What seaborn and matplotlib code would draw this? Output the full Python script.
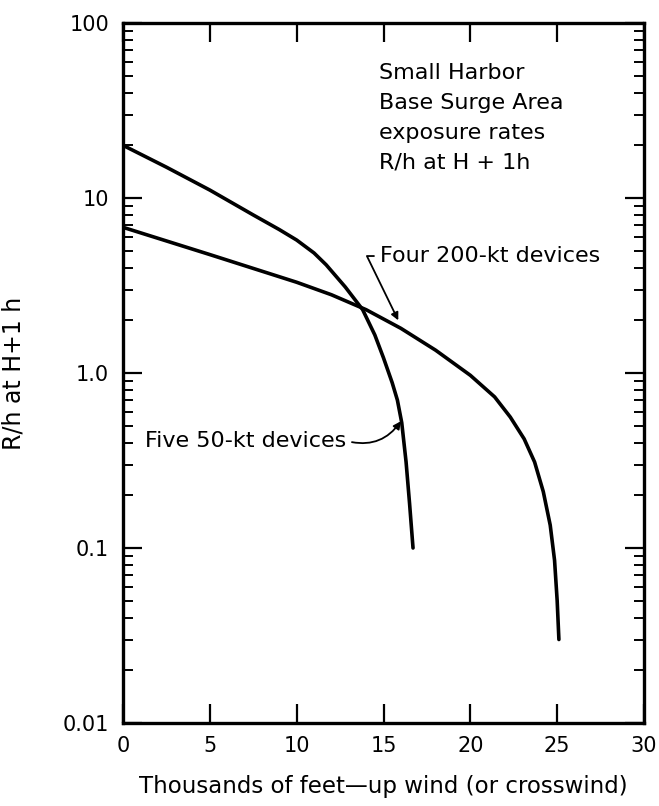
import numpy as np
import pandas as pd
import matplotlib
matplotlib.use("Agg")
import matplotlib.pyplot as plt
import seaborn as sns
from matplotlib.ticker import LogLocator, FixedLocator, FixedFormatter, NullFormatter

# ---- data ----
x_50kt = [0, 2.5, 5, 7.5, 9, 10, 11, 11.7, 12.8, 13.8, 14.5, 15.0, 15.5, 15.8, 16.05, 16.3, 16.5, 16.7]
y_50kt = [20, 15, 11.1, 8.0, 6.6, 5.75, 4.85, 4.15, 3.1, 2.3, 1.65, 1.22, 0.88, 0.70, 0.52, 0.31, 0.18, 0.10]

x_200kt = [0, 5, 10, 12, 14, 16, 18, 20, 21.4, 22.3, 23.1, 23.7, 24.2, 24.6, 24.85, 25.0, 25.1]
y_200kt = [6.8, 4.75, 3.3, 2.8, 2.3, 1.8, 1.35, 0.97, 0.73, 0.56, 0.42, 0.31, 0.21, 0.135, 0.085, 0.05, 0.03]

x_ticks = [0, 5, 10, 15, 20, 25, 30]
y_ticks = [0.01, 0.1, 1.0, 10, 100]
y_tick_labels = ["0.01", "0.1", "1.0", "10", "100"]

label_50 = "Five 50-kt devices"
label_200 = "Four 200-kt devices"
title_lines = ["Small Harbor", "Base Surge Area", "exposure rates", "R/h at H + 1h"]
x_label = "Thousands of feet\u2014up wind (or crosswind)"
y_label = "R/h at H+1 h"

df = pd.concat([
    pd.DataFrame({"x": x_50kt, "y": y_50kt, "series": label_50}),
    pd.DataFrame({"x": x_200kt, "y": y_200kt, "series": label_200}),
])

sns.set_style("ticks")
plt.rcParams["font.family"] = ["DejaVu Sans"]
for k in ["text.color", "axes.labelcolor", "xtick.color", "ytick.color", "axes.edgecolor"]:
    plt.rcParams[k] = "black"

fig = plt.figure(figsize=(6.59, 8.06), dpi=100)
W, H = 659, 806
ax = fig.add_axes([123 / W, 1 - 723 / H, (644 - 123) / W, (723 - 23) / H])

sns.lineplot(data=df, x="x", y="y", hue="series", palette=["black", "black"],
             linewidth=2.6, legend=False, ax=ax, sort=False)

ax.set_yscale("log")
ax.set_xlim(0, 30)
ax.set_ylim(0.01, 100)

ax.xaxis.set_major_locator(FixedLocator(x_ticks))
ax.yaxis.set_major_locator(FixedLocator(y_ticks))
ax.yaxis.set_major_formatter(FixedFormatter(y_tick_labels))
ax.yaxis.set_minor_locator(LogLocator(base=10, subs=np.arange(2, 10)))
ax.yaxis.set_minor_formatter(NullFormatter())

ax.tick_params(axis="both", which="major", direction="in", length=14, width=1.6,
               top=True, right=True, labelsize=15, colors="black")
ax.tick_params(axis="x", which="major", pad=9)
ax.tick_params(axis="y", which="major", pad=10)
ax.tick_params(axis="y", which="minor", direction="in", length=7, width=1.4,
               left=True, right=True)
for s in ax.spines.values():
    s.set_linewidth(2.4)
    s.set_color("black")

ax.set_xlabel(x_label, fontsize=16.5, labelpad=14)
ax.set_ylabel(y_label, fontsize=17, labelpad=14)
ax.yaxis.set_label_coords(-0.187, 0.5)

line_fracs = [0.9286, 0.8857, 0.8429, 0.800]
for txt, yf in zip(title_lines, line_fracs):
    ax.text(14.75, yf, txt, fontsize=16, va="center", ha="left",
            transform=ax.get_xaxis_transform())

ax.annotate(label_200, xy=(15.85, 2.0), xytext=(14.8, 4.66), fontsize=16,
            va="center", ha="left",
            arrowprops=dict(arrowstyle="-|>", color="black", lw=1.3,
                            shrinkA=2, shrinkB=0, mutation_scale=11,
                            relpos=(0, 0.5),
                            connectionstyle="angle,angleA=0,angleB=116,rad=0"))
ax.annotate(label_50, xy=(16.0, 0.53), xytext=(1.25, 0.41), fontsize=16,
            va="center", ha="left",
            arrowprops=dict(arrowstyle="-|>", color="black", lw=1.3,
                            shrinkA=2, shrinkB=0, mutation_scale=11,
                            relpos=(1, 0.5),
                            connectionstyle="arc3,rad=0.35"))

fig.savefig("out.png", dpi=100)
